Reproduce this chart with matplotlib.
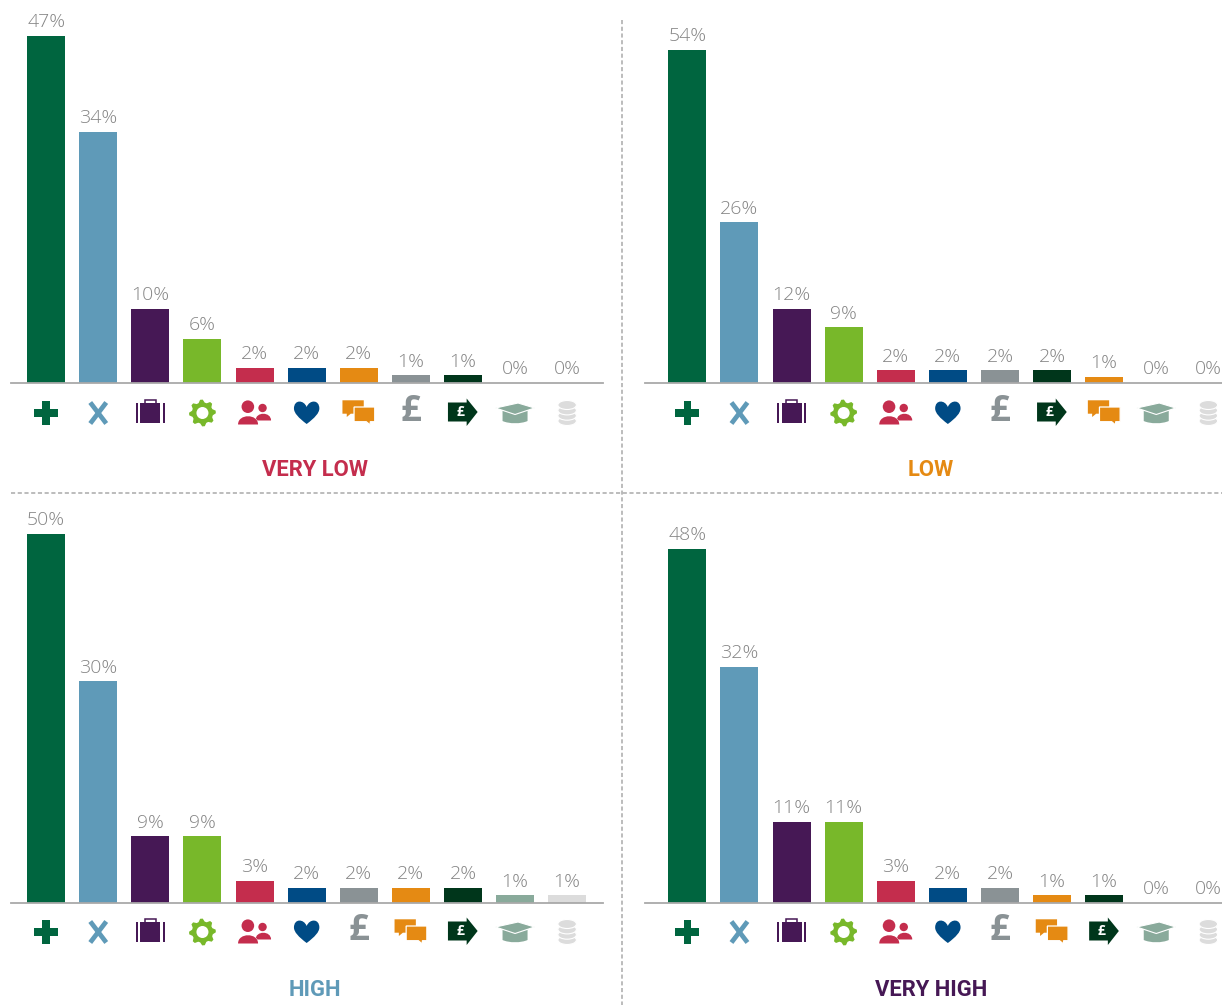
import numpy as np
import matplotlib
matplotlib.use("Agg")
import matplotlib.pyplot as plt
from matplotlib.path import Path
from matplotlib.patches import PathPatch, Polygon, Circle, Ellipse, Rectangle

plt.rcParams['font.family'] = ['Open Sans', 'DejaVu Sans']

# category order in each panel
order_very_low = ["health", "none", "work", "gear", "people", "heart", "chat", "pound", "arrow", "grad", "coins"]
order_low = ["health", "none", "work", "gear", "people", "heart", "pound", "arrow", "chat", "grad", "coins"]
order_high = ["health", "none", "work", "gear", "people", "heart", "pound", "chat", "arrow", "grad", "coins"]
order_very_high = ["health", "none", "work", "gear", "people", "heart", "pound", "chat", "arrow", "grad", "coins"]

# percentages
values_very_low = [47, 34, 10, 6, 2, 2, 2, 1, 1, 0, 0]
values_low = [54, 26, 12, 9, 2, 2, 2, 2, 1, 0, 0]
values_high = [50, 30, 9, 9, 3, 2, 2, 2, 2, 1, 1]
values_very_high = [48, 32, 11, 11, 3, 2, 2, 1, 1, 0, 0]

colors = {
    "health": "#00653f", "none": "#5f9ab8", "work": "#461855", "gear": "#78b82a",
    "people": "#c42d4d", "heart": "#004b85", "chat": "#e58a13", "pound": "#8a9295",
    "arrow": "#00361b", "grad": "#89aa9b", "coins": "#dcdcdc",
}

W, H = 1222, 1007
STEP = 52.1
GREY = "#a9a9a9"

fig = plt.figure(figsize=(W / 100, H / 100), dpi=100)

# overlay in pixel coordinates for icons and divider lines
pix = fig.add_axes([0, 0, 1, 1], zorder=3)
pix.set_xlim(0, W)
pix.set_ylim(H, 0)
pix.axis("off")
pix.patch.set_alpha(0)


def icon_health(x, y, c):
    pix.add_patch(Rectangle((x - 12, y - 3.7), 24, 7.4, color=c, lw=0))
    pix.add_patch(Rectangle((x - 3.7, y - 12), 7.4, 24, color=c, lw=0))


def icon_none(x, y, c):
    pix.plot([x - 8, x + 8], [y - 10.5, y + 10.5], color=c, lw=3.4, solid_capstyle="butt")
    pix.plot([x + 8, x - 8], [y - 10.5, y + 10.5], color=c, lw=3.4, solid_capstyle="butt")


def icon_work(x, y, c):
    pix.add_patch(Rectangle((x - 14.5, y - 9.7), 2, 19.4, color=c, lw=0))
    pix.add_patch(Rectangle((x + 12.5, y - 9.7), 2, 19.4, color=c, lw=0))
    pix.add_patch(Rectangle((x - 10, y - 9.7), 20, 19.4, color=c, lw=0))
    pix.add_patch(Rectangle((x - 5.5, y - 13), 11, 5, fill=False, ec=c, lw=1.1))


def icon_gear(x, y, c):
    n = 8
    ang = np.linspace(0, 2 * np.pi, n * 4, endpoint=False) - np.pi / 8 * 0.45
    rad = np.tile([13.4, 13.4, 10.6, 10.6], n)
    pix.add_patch(Polygon(np.c_[x + rad * np.cos(ang), y + rad * np.sin(ang)], color=c, lw=0))
    pix.add_patch(Circle((x, y), 6, color="white", lw=0))


def dome(x0, x1, top, bottom, c):
    verts = [(x0, bottom), (x0, top), (x1, top), (x1, bottom), (x0, bottom)]
    codes = [Path.MOVETO, Path.CURVE4, Path.CURVE4, Path.CURVE4, Path.CLOSEPOLY]
    pix.add_patch(PathPatch(Path(verts, codes), color=c, lw=0))


def icon_people(x, y, c):
    pix.add_patch(Circle((x - 6.7, y - 6.3), 6.3, color=c, lw=0))
    pix.add_patch(Circle((x + 8, y - 5), 4.2, color=c, lw=0))
    dome(x + 1, x + 16.5, y - 1.5, y + 7.5, c)
    dome(x - 17, x + 3.5, y - 1, y + 11.5, "white")
    dome(x - 16.5, x + 3.5, y + 0.5, y + 11.5, c)


def icon_heart(x, y, c):
    verts = [(x, y + 11), (x - 8, y + 5), (x - 12.7, y + 0), (x - 12.7, y - 4.5),
             (x - 12.7, y - 13.5), (x - 3, y - 13.5), (x, y - 6),
             (x + 3, y - 13.5), (x + 12.7, y - 13.5), (x + 12.7, y - 4.5),
             (x + 12.7, y + 0), (x + 8, y + 5), (x, y + 11)]
    codes = [Path.MOVETO] + [Path.CURVE4] * 12
    pix.add_patch(PathPatch(Path(verts, codes), color=c, lw=0))


def icon_chat(x, y, c):
    pix.add_patch(Polygon([(x - 16.3, y - 12.7), (x + 5, y - 12.7), (x + 5, y + 0.7), (x - 8, y + 0.7),
                           (x - 12, y + 4), (x - 12, y + 0.7), (x - 16.3, y + 0.7)], color=c, lw=0))
    pix.add_patch(Polygon([(x - 4.7, y - 6), (x + 16, y - 6), (x + 16, y + 8.7), (x + 11.5, y + 8.7),
                           (x + 11.5, y + 12), (x + 7.5, y + 8.7), (x - 4.7, y + 8.7)],
                          fc=c, ec="white", lw=0.9))


def icon_pound(x, y, c):
    pix.text(x, y - 1, "£", color=c, fontsize=26, fontweight="bold", ha="center", va="center")


def icon_arrow(x, y, c):
    pix.add_patch(Polygon([(x - 15, y - 10.5), (x + 3.7, y - 10.5), (x + 3.7, y - 14.5), (x + 14.7, y - 1),
                           (x + 3.7, y + 13), (x + 3.7, y + 8.5), (x - 15, y + 8.5)], color=c, lw=0))
    pix.text(x - 2.5, y - 1, "£", color="white", fontsize=10, fontweight="bold", ha="center", va="center")


def icon_grad(x, y, c):
    verts = [(x - 12.5, y - 2), (x + 12.5, y - 2), (x + 12.5, y + 8), (x + 6, y + 11), (x - 6, y + 11),
             (x - 12.5, y + 8), (x - 12.5, y - 2)]
    codes = [Path.MOVETO, Path.LINETO, Path.LINETO, Path.CURVE4, Path.CURVE4, Path.CURVE4, Path.CLOSEPOLY]
    pix.add_patch(PathPatch(Path(verts, codes), color=c, lw=0))
    pix.add_patch(Polygon([(x - 19.5, y - 5), (x + 3, y - 10), (x + 19.5, y - 5), (x, y + 1.5)],
                          fc=c, ec="white", lw=0.8))


def icon_coins(x, y, c):
    for dy in [8, 2.7, -2.6, -8]:
        pix.add_patch(Ellipse((x, y + dy), 18.5, 9, fc=c, ec="white", lw=0.8))


icons = {
    "health": icon_health, "none": icon_none, "work": icon_work, "gear": icon_gear,
    "people": icon_people, "heart": icon_heart, "chat": icon_chat, "pound": icon_pound,
    "arrow": icon_arrow, "grad": icon_grad, "coins": icon_coins,
}


def panel(order, values, title, title_color, x_first, x_left, x_right, y_base, px_per_pct, icon_y, title_x, title_y):
    height = y_base - 10
    ax = fig.add_axes([x_left / W, 1 - y_base / H, (x_right - x_left) / W, height / H])
    ax.set_xlim((x_left - x_first) / STEP, (x_right - x_first) / STEP)
    ax.set_ylim(0, height / px_per_pct)
    ax.bar(range(len(values)), values, width=0.73, color=[colors[k] for k in order])
    for i, v in enumerate(values):
        ax.annotate(f"{v}%", (i, v), xytext=(0, 9.9), textcoords="offset points", ha="center", va="center",
                    color="#858585", fontsize=14, fontweight="light")
    for s in ["top", "left", "right"]:
        ax.spines[s].set_visible(False)
    ax.spines["bottom"].set_color(GREY)
    ax.spines["bottom"].set_linewidth(1.3)
    ax.patch.set_alpha(0)
    ax.set_xticks([])
    ax.set_yticks([])
    for i, k in enumerate(order):
        icons[k](x_first + i * STEP, icon_y, colors[k])
    pix.text(title_x, title_y, title, color=title_color, fontsize=15.8, fontweight="bold", ha="center", va="center",
             family=["Roboto", "DejaVu Sans"])


panel(order_very_low, values_very_low, "VERY LOW", "#c42d4d", 46.15, 11, 603, 382.8, 7.38, 413, 315, 470.5)
panel(order_low, values_low, "LOW", "#e58a13", 687.35, 645, 1222, 382.8, 6.17, 413, 931, 470.5)
panel(order_high, values_high, "HIGH", "#5f9ab8", 46.15, 11, 603, 902.8, 7.38, 932, 315, 989.5)
panel(order_very_high, values_very_high, "VERY HIGH", "#461855", 687.35, 645, 1222, 902.8, 7.38, 932, 931, 989.5)

# dashed dividers
pix.plot([622, 622], [20, 1005], color=GREY, lw=1.1, ls=(0, (2.7, 1.7)))
pix.plot([11, 1222], [493, 493], color=GREY, lw=1.1, ls=(0, (2.7, 1.7)))

fig.savefig("out.png", dpi=100)
